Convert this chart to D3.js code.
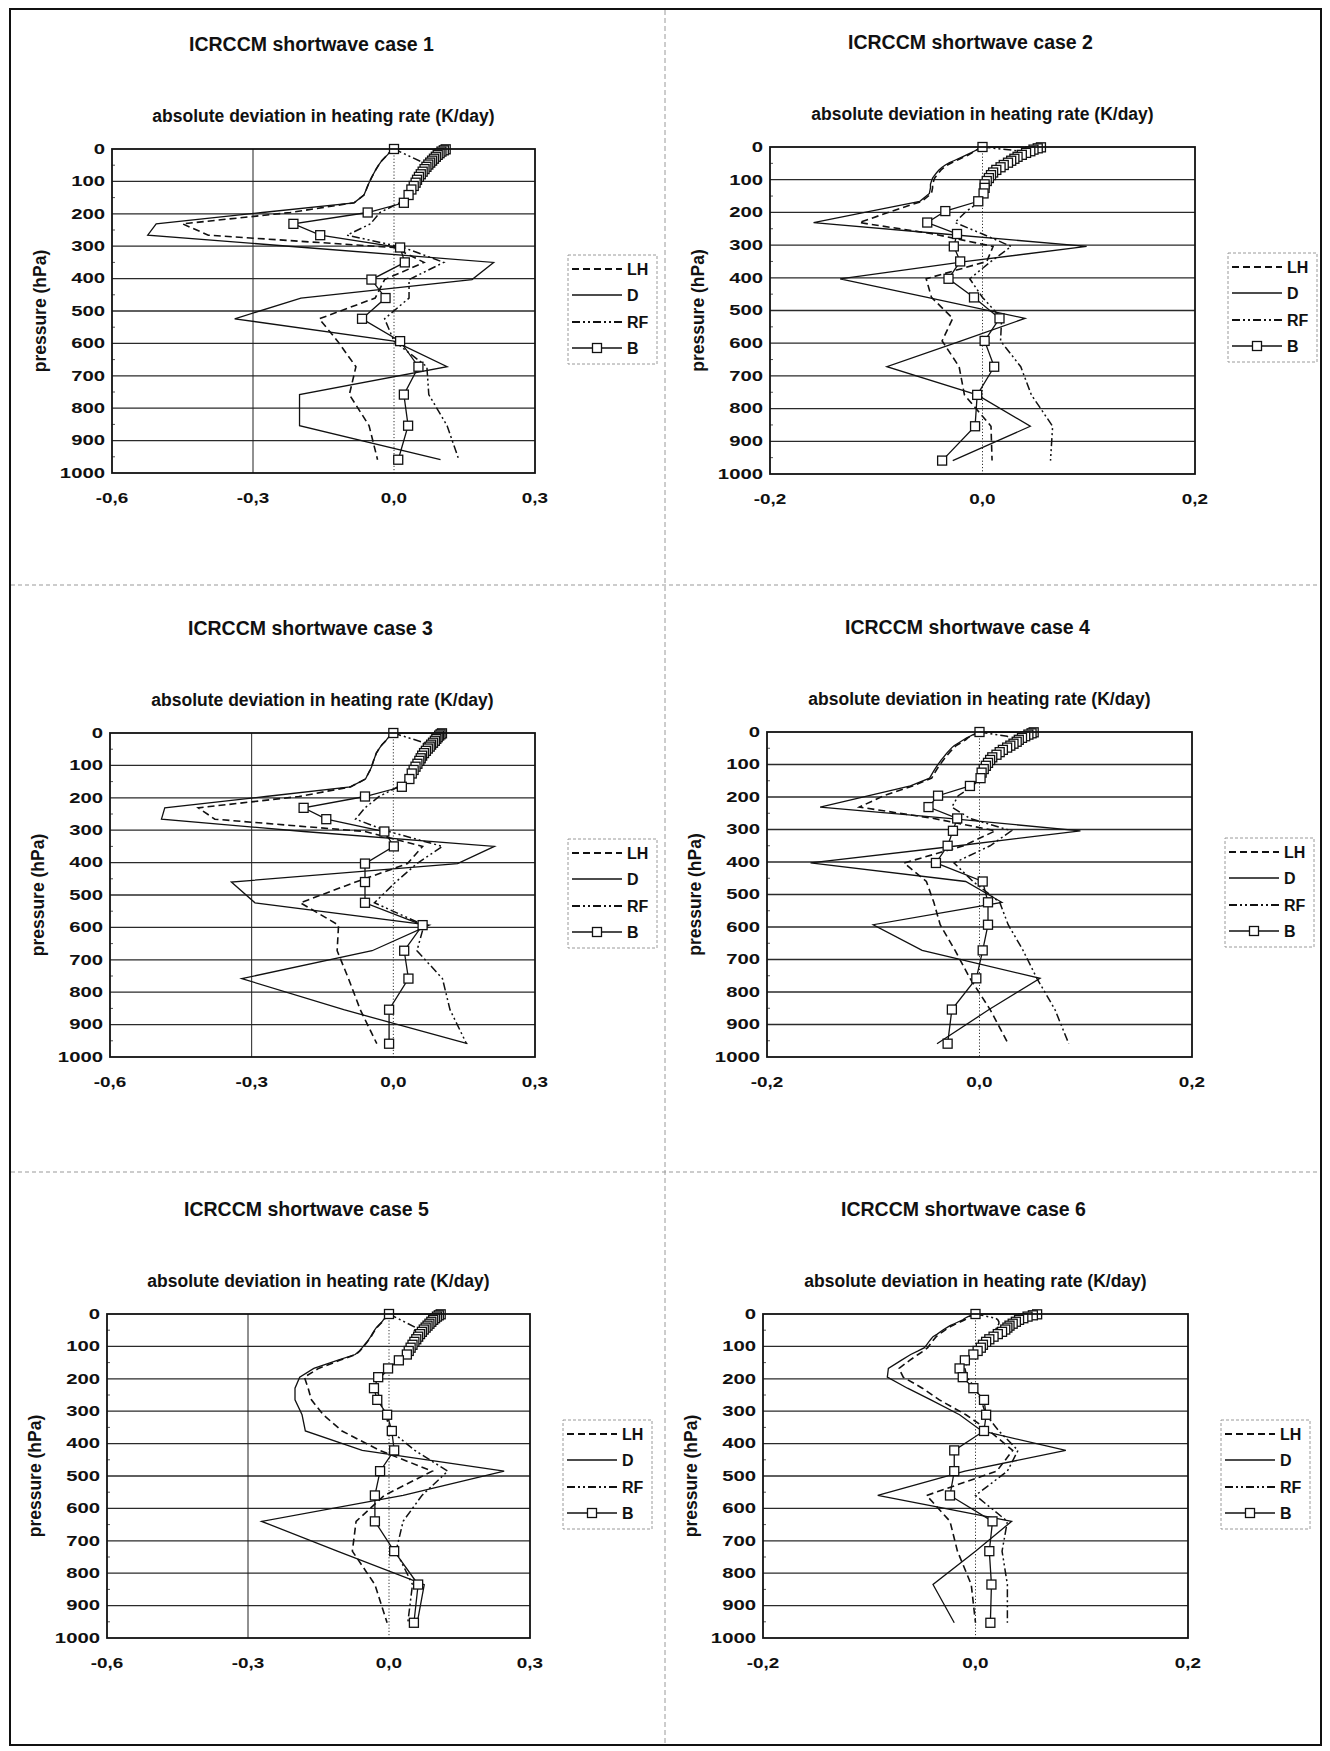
<!DOCTYPE html>
<html><head><meta charset="utf-8">
<script src="https://cdn.jsdelivr.net/npm/d3@7"></script>
<style>
body{margin:0;background:#fff}
svg text{font-family:"Liberation Sans",Arial,sans-serif;font-weight:bold;fill:#111}
</style>
</head><body>
<svg id="c" width="1330" height="1751"></svg>
<script>
// ---------------- DATA ----------------
const levelsA = [0,1,4,8,13,18,24,30,36,42,48,55,62,70,78,86,95,104,114,125,142,166,196,231,266,304,350,403,460,524,593,672,758,854,959];
const levelsB = [0,1,4,8,13,18,24,30,36,42,48,55,62,70,78,86,95,104,114,125,143,168,195,229,265,311,361,421,485,560,640,732,835,953];

const pressureTicks = [0,100,200,300,400,500,600,700,800,900,1000];
const xTicksWide = [-0.6,-0.3,0.0,0.3];
const xLabelsWide = ["-0,6","-0,3","0,0","0,3"];
const xTicksNarrow = [-0.2,0.0,0.2];
const xLabelsNarrow = ["-0,2","0,0","0,2"];
const seriesNames = ["LH","D","RF","B"];
const caseTitles = ["ICRCCM shortwave case 1","ICRCCM shortwave case 2","ICRCCM shortwave case 3","ICRCCM shortwave case 4","ICRCCM shortwave case 5","ICRCCM shortwave case 6"];
const subTitle = "absolute deviation in heating rate (K/day)";
const yAxisTitle = "pressure (hPa)";

// case 1 (levelsA)
const case1_LH = [0,-0.002,-0.005,-0.008,-0.011,-0.014,-0.018,-0.022,-0.026,-0.029,-0.032,-0.035,-0.038,-0.041,-0.044,-0.047,-0.050,-0.053,-0.056,-0.059,-0.064,-0.085,-0.220,-0.450,-0.395,0.000,0.064,-0.020,-0.040,-0.159,-0.120,-0.081,-0.095,-0.053,-0.035];
const case1_D  = [0,-0.002,-0.005,-0.008,-0.011,-0.014,-0.018,-0.022,-0.026,-0.029,-0.032,-0.035,-0.038,-0.041,-0.044,-0.047,-0.050,-0.053,-0.056,-0.059,-0.064,-0.085,-0.280,-0.506,-0.524,-0.190,0.212,0.166,-0.198,-0.339,0.000,0.113,-0.201,-0.201,0.099];
const case1_RF = [0,null,null,null,null,null,null,null,null,0.062,0.060,0.058,0.056,0.054,0.051,0.048,0.045,0.042,0.038,0.034,0.028,0.012,-0.030,-0.050,-0.100,0.020,0.106,0.032,0.032,-0.020,0.000,0.070,0.074,0.113,0.138];
const case1_B  = [0,0.110,0.106,0.101,0.097,0.093,0.089,0.085,0.081,0.077,0.073,0.069,0.065,0.061,0.057,0.053,0.049,0.046,0.042,0.037,0.031,0.021,-0.056,-0.214,-0.157,0.013,0.023,-0.048,-0.018,-0.068,0.013,0.052,0.021,0.030,0.009];

// case 2 (levelsA)
const case2_LH = [0,-0.001,-0.003,-0.005,-0.007,-0.010,-0.013,-0.017,-0.021,-0.025,-0.029,-0.033,-0.036,-0.039,-0.041,-0.043,-0.045,-0.046,-0.047,-0.047,-0.048,-0.057,-0.085,-0.116,-0.046,0.010,0.004,-0.053,-0.048,-0.028,-0.038,-0.022,-0.017,0.008,0.009];
const case2_D  = [0,-0.001,-0.003,-0.005,-0.008,-0.011,-0.015,-0.019,-0.023,-0.027,-0.031,-0.035,-0.038,-0.041,-0.043,-0.045,-0.047,-0.048,-0.049,-0.049,-0.050,-0.059,-0.105,-0.159,-0.036,0.098,-0.015,-0.134,-0.052,0.040,-0.020,-0.090,-0.005,0.045,-0.028];
const case2_RF = [0,null,null,null,0.037,0.035,0.032,0.029,0.026,0.023,0.021,0.018,0.015,0.012,0.009,0.007,0.005,0.003,0.002,0.001,0.000,-0.002,-0.015,-0.026,0.000,0.027,0.008,-0.012,0.000,0.018,0.017,0.036,0.046,0.066,0.064];
const case2_B  = [0,0.055,0.052,0.048,0.045,0.041,0.037,0.033,0.030,0.027,0.024,0.020,0.017,0.013,0.010,0.008,0.006,0.004,0.002,0.002,0.001,-0.004,-0.035,-0.052,-0.024,-0.027,-0.021,-0.032,-0.008,0.016,0.002,0.011,-0.005,-0.007,-0.038];

// case 3 (levelsA)
const case3_LH = [0,-0.001,-0.004,-0.007,-0.010,-0.013,-0.016,-0.020,-0.024,-0.027,-0.030,-0.033,-0.036,-0.038,-0.040,-0.042,-0.044,-0.046,-0.049,-0.053,-0.059,-0.090,-0.200,-0.413,-0.378,-0.060,0.062,0.030,-0.080,-0.197,-0.116,-0.119,-0.095,-0.070,-0.035];
const case3_D  = [0,-0.001,-0.004,-0.007,-0.010,-0.013,-0.016,-0.020,-0.024,-0.027,-0.030,-0.033,-0.036,-0.038,-0.040,-0.042,-0.044,-0.046,-0.049,-0.053,-0.059,-0.091,-0.270,-0.484,-0.491,-0.190,0.214,0.136,-0.343,-0.293,0.076,-0.045,-0.321,-0.105,0.157];
const case3_RF = [0,null,null,null,null,null,null,0.065,0.063,0.061,0.059,0.057,0.055,0.052,0.050,0.048,0.045,0.042,0.039,0.035,0.030,0.010,-0.030,-0.060,-0.080,-0.010,0.104,0.050,0.005,-0.040,0.065,0.050,0.104,0.120,0.155];
const case3_B  = [0,0.103,0.100,0.097,0.094,0.091,0.088,0.084,0.080,0.077,0.073,0.069,0.065,0.061,0.058,0.055,0.051,0.047,0.043,0.039,0.034,0.018,-0.060,-0.190,-0.142,-0.019,0.001,-0.060,-0.060,-0.060,0.062,0.023,0.032,-0.009,-0.009];

// case 4 (levelsA)
const case4_LH = [0,-0.001,-0.003,-0.005,-0.008,-0.011,-0.013,-0.016,-0.019,-0.022,-0.024,-0.026,-0.028,-0.030,-0.032,-0.034,-0.036,-0.038,-0.040,-0.042,-0.045,-0.063,-0.090,-0.113,-0.043,0.015,-0.015,-0.071,-0.050,-0.043,-0.037,-0.023,-0.009,0.010,0.027];
const case4_D  = [0,-0.001,-0.003,-0.006,-0.009,-0.012,-0.015,-0.018,-0.021,-0.024,-0.026,-0.028,-0.030,-0.032,-0.034,-0.036,-0.038,-0.040,-0.042,-0.044,-0.047,-0.065,-0.104,-0.150,-0.029,0.095,-0.020,-0.159,-0.013,0.021,-0.100,-0.054,0.057,0.009,-0.040];
const case4_RF = [0,null,null,null,0.026,0.028,0.029,0.029,0.028,0.026,0.024,0.021,0.018,0.015,0.012,0.009,0.007,0.005,0.003,0.002,0.000,-0.006,-0.020,-0.026,-0.009,0.030,0.010,-0.024,-0.006,0.019,0.027,0.041,0.054,0.071,0.084];
const case4_B  = [0,0.051,0.049,0.046,0.043,0.040,0.037,0.035,0.032,0.029,0.026,0.022,0.019,0.016,0.012,0.010,0.008,0.006,0.004,0.002,0.001,-0.009,-0.039,-0.048,-0.021,-0.025,-0.030,-0.041,0.003,0.008,0.008,0.003,-0.003,-0.026,-0.030];

// case 5 (levelsB)
const case5_LH = [0,-0.001,-0.003,-0.005,-0.008,-0.011,-0.014,-0.018,-0.022,-0.026,-0.029,-0.032,-0.035,-0.038,-0.042,-0.046,-0.051,-0.056,-0.062,-0.070,-0.105,-0.150,-0.180,-0.172,-0.165,-0.140,-0.100,-0.020,0.092,-0.010,-0.070,-0.078,-0.030,-0.004];
const case5_D  = [0,-0.001,-0.003,-0.006,-0.009,-0.012,-0.015,-0.019,-0.023,-0.027,-0.030,-0.033,-0.036,-0.039,-0.043,-0.047,-0.052,-0.057,-0.063,-0.072,-0.110,-0.160,-0.190,-0.200,-0.200,-0.185,-0.178,-0.057,0.245,0.030,-0.271,-0.110,0.075,0.060];
const case5_RF = [0,null,null,null,null,null,null,null,null,0.057,0.055,0.053,0.051,0.049,0.047,0.045,0.042,0.039,0.036,0.033,0.018,0.000,-0.018,-0.025,-0.020,-0.008,0.004,0.055,0.125,0.070,0.030,0.015,0.050,0.040];
const case5_B  = [0,0.110,0.106,0.102,0.098,0.094,0.090,0.086,0.082,0.078,0.074,0.070,0.066,0.062,0.058,0.054,0.050,0.046,0.042,0.038,0.021,-0.002,-0.023,-0.032,-0.025,-0.004,0.006,0.011,-0.019,-0.030,-0.030,0.011,0.062,0.053];

// case 6 (levelsB)
const case6_LH = [0,-0.001,-0.003,-0.006,-0.008,-0.010,-0.014,-0.018,-0.022,-0.025,-0.028,-0.031,-0.034,-0.037,-0.039,-0.041,-0.043,-0.045,-0.049,-0.054,-0.062,-0.072,-0.068,-0.050,-0.034,-0.009,0.013,0.035,0.020,-0.046,-0.024,-0.017,-0.004,0.000];
const case6_D  = [0,-0.001,-0.004,-0.007,-0.010,-0.012,-0.016,-0.020,-0.024,-0.027,-0.030,-0.033,-0.036,-0.040,-0.042,-0.044,-0.046,-0.048,-0.054,-0.061,-0.070,-0.082,-0.083,-0.064,-0.042,-0.015,0.006,0.085,-0.010,-0.092,0.034,0.000,-0.040,-0.020];
const case6_RF = [0,null,null,null,0.019,0.021,0.022,0.022,0.021,0.020,0.019,0.017,0.015,0.012,0.009,0.006,0.004,0.002,0.000,-0.003,-0.007,-0.010,-0.008,0.000,0.005,0.010,0.022,0.040,0.030,0.000,0.030,0.025,0.030,0.030];
const case6_B  = [0,0.058,0.054,0.049,0.045,0.041,0.038,0.035,0.032,0.030,0.028,0.025,0.021,0.017,0.013,0.010,0.007,0.005,0.002,-0.002,-0.010,-0.015,-0.012,-0.002,0.008,0.010,0.008,-0.020,-0.020,-0.024,0.016,0.013,0.015,0.014];

// ---------------- CONFIG ----------------
const panels = [
  {levels:levelsA, dom:[-0.6,0.3], ticks:xTicksWide, labels:xLabelsWide, grid:[-0.3], s:[case1_LH,case1_D,case1_RF,case1_B]},
  {levels:levelsA, dom:[-0.2,0.2], ticks:xTicksNarrow, labels:xLabelsNarrow, grid:[], s:[case2_LH,case2_D,case2_RF,case2_B]},
  {levels:levelsA, dom:[-0.6,0.3], ticks:xTicksWide, labels:xLabelsWide, grid:[-0.3], s:[case3_LH,case3_D,case3_RF,case3_B]},
  {levels:levelsA, dom:[-0.2,0.2], ticks:xTicksNarrow, labels:xLabelsNarrow, grid:[], s:[case4_LH,case4_D,case4_RF,case4_B]},
  {levels:levelsB, dom:[-0.6,0.3], ticks:xTicksWide, labels:xLabelsWide, grid:[-0.3], s:[case5_LH,case5_D,case5_RF,case5_B]},
  {levels:levelsB, dom:[-0.2,0.2], ticks:xTicksNarrow, labels:xLabelsNarrow, grid:[], s:[case6_LH,case6_D,case6_RF,case6_B]}
];
const boxes = [
  {x0:112,x1:535,y0:149,y1:473},
  {x0:770,x1:1195,y0:147,y1:474},
  {x0:110,x1:535,y0:733,y1:1057},
  {x0:767,x1:1192,y0:732,y1:1057},
  {x0:107,x1:530,y0:1314,y1:1638},
  {x0:763,x1:1188,y0:1314,y1:1638}
];
const styles = [
  {dash:"7,4", w:1.6},
  {dash:null, w:1.3},
  {dash:"8,3,2,3,2,3", w:1.5},
  {dash:null, w:1.3}
];

const svg = d3.select("#c");
svg.append("rect").attr("width",1330).attr("height",1751).attr("fill","#fff");

// frame and dividers
svg.append("rect").attr("x",10).attr("y",9).attr("width",1311).attr("height",1736)
  .attr("fill","none").attr("stroke","#111").attr("stroke-width",2);
svg.append("line").attr("x1",665).attr("x2",665).attr("y1",10).attr("y2",1744)
  .attr("stroke","#9a9a9a").attr("stroke-width",1).attr("stroke-dasharray","5,3");
[585,1172].forEach(y=>svg.append("line").attr("x1",11).attr("x2",1320).attr("y1",y).attr("y2",y)
  .attr("stroke","#9a9a9a").attr("stroke-width",1.2).attr("stroke-dasharray","4,3"));

function stretchedText(g, x, y, txt, anchor, sx){
  g.append("text").attr("transform",`translate(${x},${y}) scale(${sx},1)`)
    .attr("text-anchor",anchor).attr("dominant-baseline","central")
    .attr("font-size",14).text(txt);
}

panels.forEach((p,i)=>{
  const b = boxes[i];
  const g = svg.append("g");
  const x = d3.scaleLinear().domain(p.dom).range([b.x0,b.x1]);
  const y = d3.scaleLinear().domain([0,1000]).range([b.y0,b.y1]);
  const cx = (b.x0+b.x1)/2;

  // titles
  g.append("text").attr("x",cx-12).attr("y",b.y0-105).attr("text-anchor","middle")
    .attr("dominant-baseline","central").attr("font-size",19.5).text(caseTitles[i]);
  g.append("text").attr("x",cx).attr("y",b.y0-33).attr("text-anchor","middle")
    .attr("dominant-baseline","central").attr("font-size",17.5).text(subTitle);
  g.append("text").attr("transform",`translate(${b.x0-72},${(b.y0+b.y1)/2}) rotate(-90)`)
    .attr("text-anchor","middle").attr("dominant-baseline","central").attr("font-size",17.5).text(yAxisTitle);

  // horizontal grid lines
  g.selectAll(".hg").data(pressureTicks.slice(1,-1)).enter().append("line")
    .attr("x1",b.x0).attr("x2",b.x1).attr("y1",d=>y(d)).attr("y2",d=>y(d))
    .attr("stroke","#2a2a2a").attr("stroke-width",1.3);
  // minor ticks on left axis
  g.selectAll(".mt").data(d3.range(50,1000,100)).enter().append("line")
    .attr("x1",b.x0).attr("x2",b.x0+3).attr("y1",d=>y(d)).attr("y2",d=>y(d))
    .attr("stroke","#555").attr("stroke-width",1);
  // vertical grid
  p.grid.forEach(v=>g.append("line").attr("x1",x(v)).attr("x2",x(v)).attr("y1",b.y0).attr("y2",b.y1)
    .attr("stroke","#222").attr("stroke-width",1));
  g.append("line").attr("x1",x(0)).attr("x2",x(0)).attr("y1",b.y0).attr("y2",b.y1)
    .attr("stroke","#333").attr("stroke-width",1).attr("stroke-dasharray","1.2,2");

  // series
  const line = d3.line().x(d=>x(d[1])).y(d=>y(d[0]));
  p.s.forEach((vals,k)=>{
    const pts = p.levels.map((lv,j)=>[lv,vals[j]]).filter(d=>d[1]!==null);
    g.append("path").attr("d",line(pts)).attr("fill","none").attr("stroke","#111")
      .attr("stroke-width",styles[k].w).attr("stroke-dasharray",styles[k].dash)
      .attr("stroke-linejoin","miter");
    if(k===3){
      g.selectAll(".sq"+i).data(pts).enter().append("rect")
        .attr("x",d=>x(d[1])-4.5).attr("y",d=>y(d[0])-4.5).attr("width",9).attr("height",9)
        .attr("fill","#fff").attr("stroke","#111").attr("stroke-width",1.3);
    }
  });

  // plot border
  g.append("rect").attr("x",b.x0).attr("y",b.y0).attr("width",b.x1-b.x0).attr("height",b.y1-b.y0)
    .attr("fill","none").attr("stroke","#111").attr("stroke-width",1.8);

  // y tick labels
  pressureTicks.forEach(t=>stretchedText(g, b.x0-7, y(t), String(t), "end", 1.45));
  // x tick labels
  p.ticks.forEach((t,j)=>stretchedText(g, x(t), b.y1+25, p.labels[j], "middle", 1.35));

  // legend
  const lx = b.x1+33, ly = b.y0+106;
  g.append("rect").attr("x",lx).attr("y",ly).attr("width",89).attr("height",109)
    .attr("fill","none").attr("stroke","#9a9a9a").attr("stroke-width",1).attr("stroke-dasharray","3,2");
  const rows = [120,146,173,199];
  seriesNames.forEach((nm,k)=>{
    const yy = b.y0+rows[k];
    g.append("line").attr("x1",b.x1+37).attr("x2",b.x1+87).attr("y1",yy).attr("y2",yy)
      .attr("stroke","#111").attr("stroke-width",styles[k].w+0.4).attr("stroke-dasharray",styles[k].dash);
    if(k===3) g.append("rect").attr("x",b.x1+57.5).attr("y",yy-4.5).attr("width",9).attr("height",9)
      .attr("fill","#fff").attr("stroke","#111").attr("stroke-width",1.3);
    g.append("text").attr("x",b.x1+92).attr("y",yy).attr("dominant-baseline","central")
      .attr("font-size",16).text(nm);
  });
});
</script>
</body></html>
